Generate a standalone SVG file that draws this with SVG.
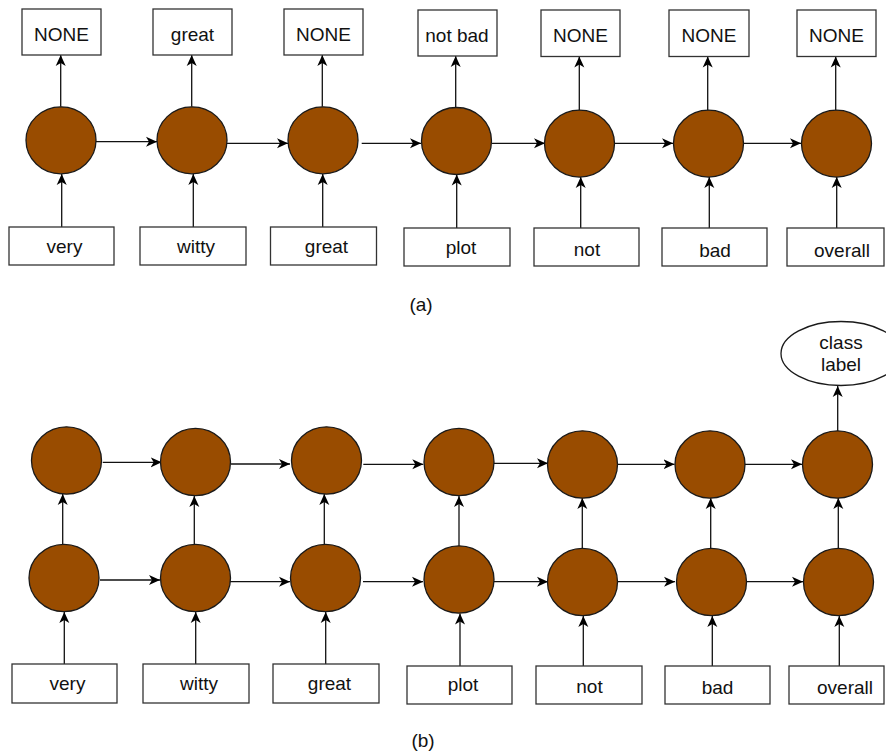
<svg xmlns="http://www.w3.org/2000/svg" width="886" height="755" viewBox="0 0 886 755">
<style>
.box{fill:#fff;stroke:#333;stroke-width:1.3}
.node{fill:#994C00;stroke:#1a1a1a;stroke-width:1.3}
.lbl{fill:#fff;stroke:#1a1a1a;stroke-width:1.3}
text{font-family:"Liberation Sans",Arial,sans-serif;font-size:19px;fill:#111;text-anchor:middle}
.c path{fill:none;stroke:#111;stroke-width:1.3;marker-end:url(#ah)}
</style>
<defs>
<marker id="ah" markerUnits="userSpaceOnUse" markerWidth="12" markerHeight="12" viewBox="0 0 12 12" refX="11" refY="5.5" orient="auto">
<path d="M0,0.5 L11,5.5 L0,10.5 L3,5.5 Z" fill="#000"/>
</marker>
</defs>
<rect width="886" height="755" fill="#fff"/>

<g class="c" id="connectors">
<path d="M61.7 227 V174"/>
<path d="M193.3 227 V174"/>
<path d="M322.7 227 V174"/>
<path d="M456.7 228 V174.5"/>
<path d="M580.7 228 V177"/>
<path d="M709.3 228 V177"/>
<path d="M836.7 228 V177"/>
<path d="M60.7 106.7 V55"/>
<path d="M191.7 106.7 V55"/>
<path d="M322.3 106.7 V55"/>
<path d="M455.7 107.7 V56"/>
<path d="M579.3 110 V56.5"/>
<path d="M707.7 110 V56.5"/>
<path d="M835.7 110 V56.5"/>
<path d="M96 141.7 H157"/>
<path d="M227 143.3 H288"/>
<path d="M361.7 143.3 H421"/>
<path d="M491.7 143.3 H545"/>
<path d="M615 143.3 H673"/>
<path d="M743 143.3 H801"/>

<path d="M64.3 664 V612"/>
<path d="M195.7 664 V612"/>
<path d="M325.7 664 V612"/>
<path d="M460 666 V613.5"/>
<path d="M583.3 666 V616"/>
<path d="M712.3 666 V616"/>
<path d="M839.3 666 V616"/>
<path d="M62.7 544 V494"/>
<path d="M194.3 544 V496"/>
<path d="M324.3 544 V494"/>
<path d="M459 546 V496"/>
<path d="M582.3 548 V498"/>
<path d="M710.7 548 V498"/>
<path d="M838.3 548 V498"/>
<path d="M837.7 431 V386"/>
<path d="M102.7 462.3 H161.7"/>
<path d="M231 464 H290"/>
<path d="M363.3 464.3 H423.3"/>
<path d="M494 463.3 H548"/>
<path d="M617.3 464.3 H674.5"/>
<path d="M742.3 464.3 H802"/>
<path d="M100 580 H160"/>
<path d="M230 581.7 H290"/>
<path d="M363 581.7 H423"/>
<path d="M494 581.7 H548"/>
<path d="M617 581.7 H675"/>
<path d="M746 581.7 H803"/>
</g>

<!-- (a) output boxes -->
<g id="a-out1"><rect class="box" x="22" y="9" width="79" height="46"/><text x="61.5" y="41">NONE</text></g>
<g id="a-out2"><rect class="box" x="153" y="9" width="79" height="46"/><text x="192.5" y="41">great</text></g>
<g id="a-out3"><rect class="box" x="284" y="9" width="79" height="46"/><text x="323.5" y="41">NONE</text></g>
<g id="a-out4"><rect class="box" x="418" y="10" width="79" height="46"/><text x="457" y="42">not bad</text></g>
<g id="a-out5"><rect class="box" x="541" y="10" width="79" height="46.5"/><text x="580.5" y="42">NONE</text></g>
<g id="a-out6"><rect class="box" x="669" y="10" width="80" height="46.5"/><text x="709" y="42">NONE</text></g>
<g id="a-out7"><rect class="box" x="797" y="10" width="79" height="46.5"/><text x="836.5" y="42">NONE</text></g>

<!-- (a) hidden nodes -->
<g id="a-h1"><ellipse class="node" cx="61" cy="140.3" rx="35" ry="33.5"/></g>
<g id="a-h2"><ellipse class="node" cx="192" cy="140.3" rx="35" ry="33.5"/></g>
<g id="a-h3"><ellipse class="node" cx="323" cy="140.3" rx="35" ry="33.5"/></g>
<g id="a-h4"><ellipse class="node" cx="456.5" cy="141" rx="35" ry="33.5"/></g>
<g id="a-h5"><ellipse class="node" cx="579.5" cy="143.6" rx="35" ry="33.5"/></g>
<g id="a-h6"><ellipse class="node" cx="708.5" cy="143.6" rx="35" ry="33.5"/></g>
<g id="a-h7"><ellipse class="node" cx="836.5" cy="143.6" rx="35" ry="33.5"/></g>

<!-- (a) inputs -->
<g id="a-in1"><rect class="box" x="9" y="227" width="105" height="38"/><text x="64.5" y="252.5">very</text></g>
<g id="a-in2"><rect class="box" x="140" y="227" width="106" height="38"/><text x="196" y="253">witty</text></g>
<g id="a-in3"><rect class="box" x="270.5" y="227" width="106" height="38"/><text x="326.5" y="252.5">great</text></g>
<g id="a-in4"><rect class="box" x="404" y="228" width="106" height="38"/><text x="461" y="253.5">plot</text></g>
<g id="a-in5"><rect class="box" x="534" y="228" width="105" height="38"/><text x="587" y="256">not</text></g>
<g id="a-in6"><rect class="box" x="662" y="228" width="105" height="38"/><text x="715" y="256.5">bad</text></g>
<g id="a-in7"><rect class="box" x="787" y="228" width="97" height="38"/><text x="842" y="257">overall</text></g>

<text id="cap-a" x="421" y="311">(a)</text>

<!-- (b) -->
<g id="b-class"><ellipse class="lbl" cx="841" cy="353.5" rx="60" ry="32"/><text x="841" y="349">class</text><text x="841" y="371">label</text></g>

<g id="b-t1"><ellipse class="node" cx="66.5" cy="460.5" rx="35" ry="33.7"/></g>
<g id="b-t2"><ellipse class="node" cx="195.5" cy="462" rx="35" ry="33.7"/></g>
<g id="b-t3"><ellipse class="node" cx="326.5" cy="460.5" rx="35" ry="33.7"/></g>
<g id="b-t4"><ellipse class="node" cx="459" cy="462" rx="35" ry="33.7"/></g>
<g id="b-t5"><ellipse class="node" cx="582.5" cy="464.5" rx="35" ry="33.7"/></g>
<g id="b-t6"><ellipse class="node" cx="710" cy="464.5" rx="35" ry="33.7"/></g>
<g id="b-t7"><ellipse class="node" cx="837.5" cy="464.5" rx="35" ry="33.7"/></g>

<g id="b-b1"><ellipse class="node" cx="64" cy="578" rx="35" ry="33.7"/></g>
<g id="b-b2"><ellipse class="node" cx="195.5" cy="578" rx="35" ry="33.7"/></g>
<g id="b-b3"><ellipse class="node" cx="325.5" cy="578" rx="35" ry="33.7"/></g>
<g id="b-b4"><ellipse class="node" cx="459" cy="579.5" rx="35" ry="33.7"/></g>
<g id="b-b5"><ellipse class="node" cx="582.5" cy="582" rx="35" ry="33.7"/></g>
<g id="b-b6"><ellipse class="node" cx="711.5" cy="582" rx="35" ry="33.7"/></g>
<g id="b-b7"><ellipse class="node" cx="838.5" cy="582" rx="35" ry="33.7"/></g>

<g id="b-in1"><rect class="box" x="12" y="664" width="105" height="39"/><text x="67.5" y="689.5">very</text></g>
<g id="b-in2"><rect class="box" x="143" y="664" width="106" height="39"/><text x="199" y="689.5">witty</text></g>
<g id="b-in3"><rect class="box" x="273" y="664" width="106" height="39"/><text x="329.5" y="690">great</text></g>
<g id="b-in4"><rect class="box" x="407" y="666" width="105" height="38"/><text x="463" y="691">plot</text></g>
<g id="b-in5"><rect class="box" x="536" y="666" width="106" height="38"/><text x="589.5" y="693">not</text></g>
<g id="b-in6"><rect class="box" x="665" y="666" width="105" height="38"/><text x="717.5" y="694">bad</text></g>
<g id="b-in7"><rect class="box" x="789" y="666" width="95" height="38"/><text x="845" y="694">overall</text></g>

<text id="cap-b" x="423" y="747">(b)</text>
</svg>
